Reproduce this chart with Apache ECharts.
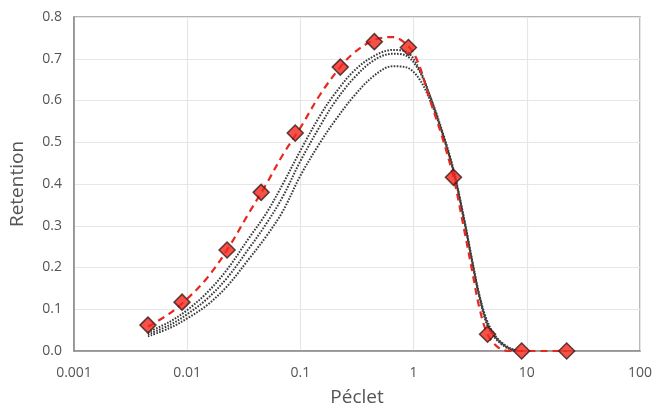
<!DOCTYPE html>
<html>
<head>
<meta charset="utf-8">
<script src="https://cdn.jsdelivr.net/npm/echarts@6/dist/echarts.min.js"></script>
<style>
  html, body { margin: 0; padding: 0; background: #fff; }
  #chart { width: 659px; height: 412px; }
</style>
</head>
<body>
<div id="chart"></div>
<script>
// measured points (diamonds)
const markerX = [0.0045, 0.009, 0.0225, 0.045, 0.09, 0.225, 0.45, 0.9, 2.25, 4.5, 9, 22.5];
const markerY = [0.062, 0.117, 0.242, 0.38, 0.522, 0.68, 0.741, 0.727, 0.416, 0.04, 0, 0];

// red dashed fit
const fitX = [0.0045, 0.007, 0.01, 0.015, 0.0225, 0.035, 0.05, 0.07, 0.1, 0.15, 0.225, 0.3, 0.45, 0.65, 0.9, 1.1, 1.4, 1.8, 2.25, 2.8, 3.3, 3.8, 4.5, 5.5, 7, 9, 22.5];
const fitY = [0.058, 0.09, 0.125, 0.175, 0.242, 0.33, 0.4, 0.47, 0.535, 0.615, 0.68, 0.715, 0.745, 0.752, 0.73, 0.69, 0.6, 0.51, 0.416, 0.29, 0.19, 0.105, 0.04, 0.01, 0, 0, 0];

// black dotted curves
const dotX = [0.0045, 0.007, 0.01, 0.015, 0.0225, 0.035, 0.05, 0.07, 0.1, 0.15, 0.2, 0.3, 0.45, 0.65, 0.85, 1.1, 1.4, 1.8, 2.25, 2.8, 3.3, 3.8, 4.5, 5.5, 7, 8.5];
const dotA = [0.045, 0.07, 0.098, 0.14, 0.195, 0.27, 0.33, 0.4, 0.48, 0.565, 0.615, 0.672, 0.707, 0.721, 0.718, 0.68, 0.61, 0.52, 0.43, 0.31, 0.21, 0.13, 0.06, 0.025, 0.005, 0];
const dotB = [0.04, 0.062, 0.088, 0.125, 0.175, 0.245, 0.305, 0.37, 0.455, 0.54, 0.595, 0.655, 0.697, 0.712, 0.708, 0.675, 0.61, 0.525, 0.435, 0.315, 0.215, 0.135, 0.065, 0.028, 0.006, 0];
const dotC = [0.035, 0.055, 0.078, 0.11, 0.155, 0.22, 0.275, 0.335, 0.42, 0.5, 0.55, 0.612, 0.66, 0.682, 0.68, 0.655, 0.6, 0.52, 0.43, 0.315, 0.215, 0.135, 0.07, 0.03, 0.008, 0];

const xTickLabels = ['0.001', '0.01', '0.1', '1', '10', '100'];
const yTickLabels = ['0.0', '0.1', '0.2', '0.3', '0.4', '0.5', '0.6', '0.7', '0.8'];

function pairs(xs, ys) {
  return xs.map((x, i) => [x, ys[i]]);
}

const labelFont = 'Open Sans';
const myChart = echarts.init(document.getElementById('chart'));

function dotted(name, ys) {
  return {
    name: name,
    type: 'line',
    data: pairs(dotX, ys),
    smooth: 0.35,
    symbol: 'none',
    lineStyle: { color: '#3a3a3a', width: 2, type: [1.6, 1.4] },
    z: 2
  };
}

const option = {
  animation: false,
  grid: {
    left: 70,
    right: 19,
    top: 17,
    bottom: 58,
    show: true,
    borderColor: '#9a9a9a',
    borderWidth: 1.5
  },
  xAxis: {
    type: 'log',
    logBase: 10,
    min: 0.001,
    max: 100,
    name: 'Péclet',
    nameLocation: 'middle',
    nameGap: 37,
    nameTextStyle: { fontFamily: labelFont, fontSize: 19, color: '#555' },
    axisLine: { show: true, lineStyle: { color: '#8a8a8a', width: 1.5 } },
    axisTick: { show: false },
    axisLabel: {
      margin: 15,
      fontFamily: labelFont,
      fontSize: 14,
      color: '#555',
      formatter: (v, i) => xTickLabels[i]
    },
    splitLine: { show: true, lineStyle: { color: '#e6e6e6', width: 1.2 } },
    minorSplitLine: { show: false }
  },
  yAxis: {
    type: 'value',
    min: 0,
    max: 0.8,
    interval: 0.1,
    name: 'Retention',
    nameLocation: 'middle',
    nameGap: 47,
    nameTextStyle: { fontFamily: labelFont, fontSize: 19, color: '#555' },
    axisLine: { show: true, lineStyle: { color: '#8a8a8a', width: 1.5 } },
    axisTick: { show: false },
    axisLabel: {
      margin: 12,
      fontFamily: labelFont,
      fontSize: 14,
      color: '#555',
      formatter: (v, i) => yTickLabels[i]
    },
    splitLine: { show: true, lineStyle: { color: '#e6e6e6', width: 1.2 } }
  },
  series: [
    dotted('c1', dotA),
    dotted('c2', dotB),
    dotted('c3', dotC),
    {
      name: 'fit',
      type: 'line',
      data: pairs(fitX, fitY),
      smooth: 0.35,
      symbol: 'none',
      lineStyle: { color: '#e8281e', width: 2.2, type: [7, 5] },
      z: 3
    },
    {
      name: 'data',
      type: 'scatter',
      data: pairs(markerX, markerY),
      symbol: 'diamond',
      symbolSize: 16,
      itemStyle: { color: '#f2261b', borderColor: '#3b1a16', borderWidth: 1.5 },
      z: 5
    }
  ]
};

myChart.setOption(option);
</script>
</body>
</html>
